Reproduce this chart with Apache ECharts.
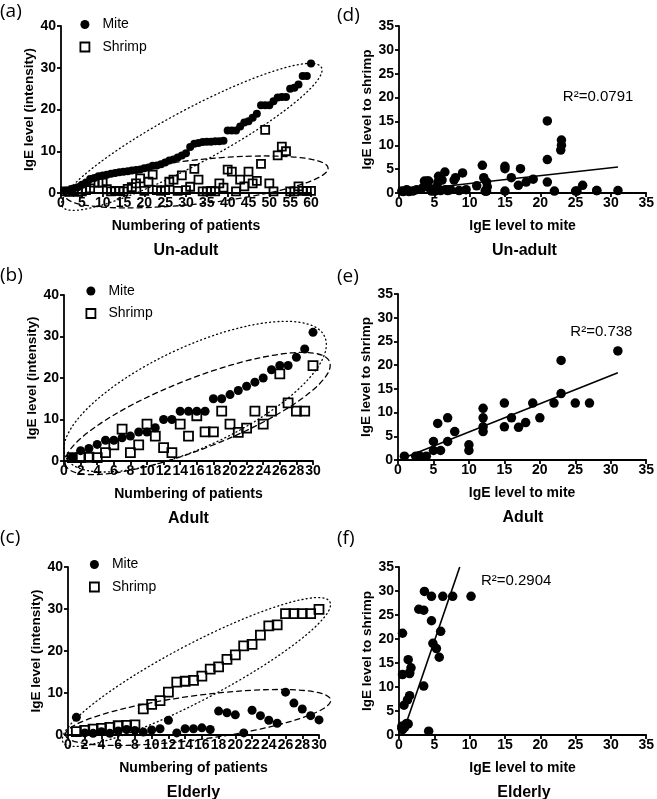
<!DOCTYPE html>
<html><head><meta charset="utf-8">
<script src="https://cdn.jsdelivr.net/npm/echarts@6/dist/echarts.min.js"></script>
<style>html,body{margin:0;padding:0;background:#fff}#c{width:657px;height:799px}</style>
</head><body><div id="c"></div>
<script>
// ---------------- DATA ----------------
const groupNames = ['Un-adult', 'Adult', 'Elderly'];
const panelLetters = ['(a)', '(b)', '(c)', '(d)', '(e)', '(f)'];
const seriesNames = ['Mite', 'Shrimp'];

// Un-adult: 60 patients, sorted by mite IgE level
const unadultMite = [0.4,0.6,1.1,1.4,1.95,2.5,3.35,3.6,4.0,4.2,
  4.4,4.6,4.8,5.0,5.1,5.2,5.4,5.5,5.6,5.9,
  6.1,6.5,6.6,6.9,7.3,7.8,8.0,8.5,9.0,9.5,
  11.0,11.8,12.0,12.2,12.3,12.3,12.4,12.4,12.5,15,
  15,15,15.9,16.9,17.2,18,19,21,21,21,
  22,22.9,23,23,25,25.2,26,28,28,31];
const unadultShrimp = [0.4,0.3,0.7,0.3,0.4,0.7,1.1,2.5,2.5,2.5,
  0.9,0.4,0.5,0.5,0.4,1.0,1.4,2.3,3.5,0.5,
  2.7,4.4,0.7,0.5,0.7,2.7,3.2,0.5,4.2,0.7,
  1.5,5.8,3.2,0.4,0.4,0.5,0.4,2.3,1.3,5.6,
  5.1,0.4,3.2,1.6,5.1,2.3,2.9,7.0,15.1,2.3,
  0.4,9.0,11.1,10.0,0.4,0.4,1.6,0.5,0.5,0.5];

// Adult: 30 patients
const adultMite = [0.9,2.5,3,4,5,5,5.6,6,7,7,8,10,10,12,12,12,12,15,15,16,17,18,19,20,22,23,23,25,27,31];
const adultShrimp = [0.8,0.8,0.9,0.8,2,3.9,7.7,2,3.9,8.9,6,3.2,2,8.9,6,10.9,7,7,12,8.9,6.9,7.9,12,8.9,12,21,14,12,12,23];

// Elderly: 30 patients, sorted by shrimp IgE level
const elderlyMite = [4.2,0.5,0.4,0.8,0.4,0.95,1.3,1.1,0.7,1.2,1.5,3.5,0.5,1.5,1.5,1.7,1.3,5.7,5.3,4.8,0.5,5.9,4.6,3.5,2.8,10.2,7.6,6.2,4.6,3.6];
const elderlyShrimp = [0.8,1.1,1.4,1.6,1.8,2.2,2.3,2.4,6.2,7.3,8.2,10.2,12.6,12.8,13.0,14.0,15.7,16.2,18.0,19.1,21.2,21.6,23.8,26.0,26.2,28.9,28.9,28.9,28.9,29.9];

// Fitted regression lines (end points)
const fitUnadult = [[0.5, 0.42], [31, 5.46]];
const fitAdult = [[0.7, 0.36], [31, 18.4]];
const fitElderly = [[0.45, 0], [8.6, 35]];
const r2Values = ['0.0791', '0.738', '0.2904'];

// ---------------- LAYOUT / STYLE ----------------
const FONT = '"Liberation Sans", Arial, sans-serif';
const grids = [
  {left: 61, top: 26, width: 250, height: 167},
  {left: 64, top: 295, width: 249, height: 166},
  {left: 68, top: 567, width: 251, height: 168},
  {left: 399, top: 26, width: 251, height: 167},
  {left: 398, top: 294, width: 250, height: 166},
  {left: 399, top: 567, width: 250, height: 168}
];
const xRanges = [[0, 60, 5], [0, 30, 2], [0, 30, 2], [0, 35, 5], [0, 35, 5], [0, 35, 5]];
const yRanges = [[0, 40, 10], [0, 40, 10], [0, 40, 10], [0, 35, 5], [0, 35, 5], [0, 35, 5]];

function axisBase() {
  return {
    type: 'value',
    axisLine: {show: true, onZero: false, lineStyle: {color: '#000', width: 1.8}},
    axisTick: {show: true, length: 4, lineStyle: {color: '#000', width: 1.8}},
    splitLine: {show: false},
    nameLocation: 'middle',
    nameTextStyle: {color: '#000', fontFamily: FONT, fontWeight: 'bold', fontSize: 14}
  };
}

const xAxis = grids.map((g, i) => Object.assign(axisBase(), {
  gridIndex: i, min: xRanges[i][0], max: xRanges[i][1], interval: xRanges[i][2],
  name: i < 3 ? 'Numbering of patients' : 'IgE level to mite', nameGap: 26,
  axisLabel: {color: '#000', fontFamily: FONT, fontWeight: 'bold', fontSize: 14, margin: 3, interval: 0, hideOverlap: false}
}));
const yAxis = grids.map((g, i) => Object.assign(axisBase(), {
  gridIndex: i, min: yRanges[i][0], max: yRanges[i][1], interval: yRanges[i][2],
  name: i < 3 ? 'IgE level (intensity)' : 'IgE level to shrimp', nameGap: 24,
  axisLabel: {color: '#000', fontFamily: FONT, fontWeight: 'bold', fontSize: 14, margin: 5},
  nameTextStyle: {color: '#000', fontFamily: FONT, fontWeight: 'bold', fontSize: 13.5}
}));

const miteStyle = {color: '#000', opacity: 1};
const shrimpStyle = {color: 'rgba(255,255,255,0)', borderColor: '#000', borderWidth: 1.8, opacity: 1};

const timeSeries = [[unadultMite, unadultShrimp, 8], [adultMite, adultShrimp, 9], [elderlyMite, elderlyShrimp, 9]];
const series = [];
timeSeries.forEach((t, gi) => {
  series.push({
    name: 'Mite', type: 'scatter', xAxisIndex: gi, yAxisIndex: gi, symbol: 'circle', symbolSize: t[2],
    itemStyle: miteStyle, emphasis: {disabled: true}, data: t[0].map((v, i) => [i + 1, v]), z: 3
  });
  series.push({
    name: 'Shrimp', type: 'scatter', xAxisIndex: gi, yAxisIndex: gi, symbol: 'rect', symbolSize: t[2],
    itemStyle: shrimpStyle, emphasis: {disabled: true}, data: t[1].map((v, i) => [i + 1, v]), z: 4
  });
});
const pairSets = [[unadultMite, unadultShrimp, fitUnadult], [adultMite, adultShrimp, fitAdult], [elderlyMite, elderlyShrimp, fitElderly]];
pairSets.forEach((p, k) => {
  const gi = k + 3;
  series.push({
    name: groupNames[k] + ' pairs', type: 'scatter', xAxisIndex: gi, yAxisIndex: gi,
    symbol: 'circle', symbolSize: 9.5, itemStyle: {color: '#000', opacity: 1}, emphasis: {disabled: true},
    data: p[0].map((m, i) => [m, p[1][i]])
  });
  series.push({
    name: groupNames[k] + ' fit', type: 'line', xAxisIndex: gi, yAxisIndex: gi,
    showSymbol: false, symbol: 'none', silent: true,
    lineStyle: {color: '#000', width: 1.6}, data: p[2]
  });
});

const legendPos = [[79.5, 17.5], [85.5, 284], [89, 557.5]];
const legend = legendPos.map(pos => ({
  orient: 'vertical', left: pos[0], top: pos[1], padding: 0, itemWidth: 9, itemHeight: 9, itemGap: 8.5,
  selectedMode: false,
  textStyle: {color: '#000', fontFamily: FONT, fontSize: 14, padding: [0, 0, 0, 8]},
  data: [
    {name: 'Mite', icon: 'circle', itemStyle: {color: '#000'}},
    {name: 'Shrimp', icon: 'rect', itemStyle: shrimpStyle}
  ]
}));

const chart = echarts.init(document.getElementById('c'));
chart.setOption({
  animation: false,
  backgroundColor: '#fff',
  grid: grids.map(g => Object.assign({containLabel: false}, g)),
  xAxis: xAxis,
  yAxis: yAxis,
  legend: legend,
  series: series
});

// ---------------- ANNOTATIONS ----------------
const ellipseNotes = [
  {grid: 0, from: [0.3, -3.2], to: [62.5, 30.1], halfWidth: 27, dash: [1, 3.2]},
  {grid: 0, from: [1.0, -0.7], to: [64.1, 6.0], halfWidth: 22, dash: [5, 4]},
  {grid: 1, from: [0.2, 1.0], to: [31.4, 30.0], halfWidth: 50, dash: [1, 3.2]},
  {grid: 1, from: [0.2, -1.0], to: [32.0, 23.9], halfWidth: 35, dash: [5, 4]},
  {grid: 2, from: [-0.6, -1.7], to: [31.3, 31.7], halfWidth: 28, dash: [1, 3.2]},
  {grid: 2, from: [-0.3, 0], to: [31.4, 8.35], halfWidth: 22, dash: [5, 4]}
];
const r2Anchors = [[23.2, 20.2], [24.3, 27.0], [11.6, 32.1]];

const graphics = [];
ellipseNotes.forEach(e => {
  const a = chart.convertToPixel({gridIndex: e.grid}, e.from);
  const b = chart.convertToPixel({gridIndex: e.grid}, e.to);
  const cx = (a[0] + b[0]) / 2, cy = (a[1] + b[1]) / 2;
  const rx = Math.hypot(b[0] - a[0], b[1] - a[1]) / 2;
  const rot = Math.atan2(-(b[1] - a[1]), b[0] - a[0]);
  graphics.push({
    type: 'ellipse', x: cx, y: cy, rotation: rot, silent: true, z: 1,
    shape: {cx: 0, cy: 0, rx: rx, ry: e.halfWidth},
    style: {fill: 'none', stroke: '#000', lineWidth: 1.3, lineDash: e.dash, lineCap: 'round'}
  });
});
r2Anchors.forEach((p, k) => {
  const px = chart.convertToPixel({gridIndex: k + 3}, p);
  graphics.push({
    type: 'text', x: px[0], y: px[1], silent: true,
    style: {text: 'R\u00B2=' + r2Values[k], font: '15px ' + FONT, fill: '#000',
      textAlign: 'left', textVerticalAlign: 'middle', align: 'left', verticalAlign: 'middle'}
  });
});
grids.forEach((g, i) => {
  graphics.push({
    type: 'text', x: g.left + g.width / 2, y: g.top + g.height + 58, silent: true,
    style: {text: groupNames[i % 3], font: 'bold 16px ' + FONT, fill: '#000',
      textAlign: 'center', textVerticalAlign: 'middle', align: 'center', verticalAlign: 'middle'}
  });
});
const letterPos = [[0, 12], [0, 276], [0, 538], [337, 16], [337, 277], [337, 539]];
letterPos.forEach((p, i) => {
  graphics.push({
    type: 'text', x: p[0], y: p[1], silent: true,
    style: {text: panelLetters[i], font: '19px "Open Sans", ' + FONT, fill: '#000',
      textAlign: 'left', textVerticalAlign: 'middle', align: 'left', verticalAlign: 'middle'}
  });
});
chart.setOption({graphic: graphics});
</script>
</body></html>
